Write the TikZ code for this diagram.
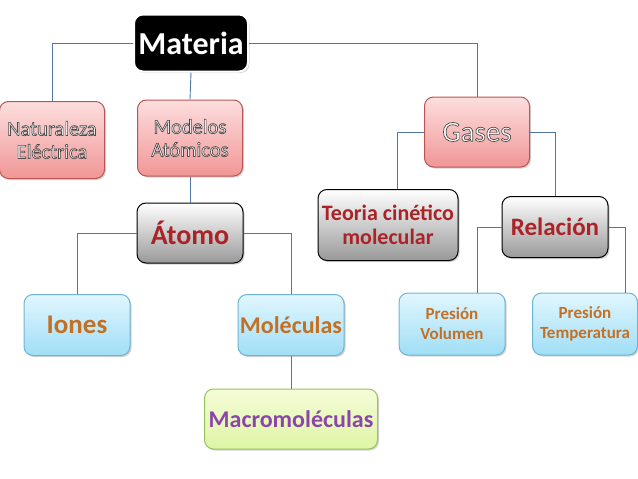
\documentclass[tikz,border=0pt]{standalone}
\usepackage{fontspec}
\setmainfont{Carlito}
\usetikzlibrary{shadows}
\definecolor{linkblue}{RGB}{79,120,165}
\definecolor{pinkedge}{RGB}{185,85,85}
\definecolor{blueedge}{RGB}{110,180,210}
\definecolor{greenedge}{RGB}{150,195,95}
\definecolor{redtext}{RGB}{170,35,40}
\definecolor{orangetext}{RGB}{196,112,36}
\definecolor{purpletext}{RGB}{140,70,170}
% outlined letters: fill and stroke the glyphs
\newcommand{\outl}[1]{\special{pdf:literal direct 2 Tr 0.7 w 0.3 G}#1\special{pdf:literal direct 0 Tr}}
\tikzset{
  box/.style={rounded corners=9pt, inner sep=0pt, align=center, line width=1pt,
    drop shadow={shadow xshift=1.5pt, shadow yshift=-1.5pt, opacity=0.35}},
  pinkbox/.style={box, draw=pinkedge, top color={rgb,255:red,253;green,222;blue,222},
    bottom color={rgb,255:red,241;green,150;blue,150}, text=white},
  graybox/.style={box, draw=black, top color=white, bottom color=black!40, text=redtext,
    font=\bfseries},
  bluebox/.style={box, draw=blueedge, top color={rgb,255:red,225;green,246;blue,255},
    bottom color={rgb,255:red,160;green,222;blue,245}, text=orangetext, font=\bfseries},
  greenbox/.style={box, draw=greenedge, top color={rgb,255:red,245;green,252;blue,215},
    bottom color={rgb,255:red,222;green,245;blue,165}, text=purpletext, font=\bfseries},
  link/.style={draw=linkblue, line width=0.9pt}
}
\begin{document}
\begin{tikzpicture}[x=1pt,y=-1pt]
  \useasboundingbox (0,0) rectangle (638,479);
  % main node
  \node[box, fill=black, draw=white, line width=2pt, text=white,
        minimum width=114pt, minimum height=57pt,
        font=\bfseries\fontsize{32}{34}\selectfont] (materia) at (191,43) {Materia};
  % first level
  \node[pinkbox, minimum width=105pt, minimum height=77pt,
        font=\fontsize{20.5}{23}\selectfont] (natural) at (52,140)
        {\outl{Naturaleza}\\\outl{Eléctrica}};
  \node[pinkbox, minimum width=105pt, minimum height=76pt,
        font=\fontsize{20.5}{23}\selectfont] (modelos) at (190,138)
        {\outl{Modelos}\\\outl{Atómicos}};
  \node[pinkbox, minimum width=105pt, minimum height=70pt,
        font=\fontsize{29}{30}\selectfont] (gases) at (477,132) {\outl{Gases}};
  % second level
  \node[graybox, minimum width=106pt, minimum height=60pt,
        font=\bfseries\fontsize{28}{30}\selectfont] (atomo) at (190,233) {Átomo};
  \node[graybox, minimum width=140pt, minimum height=71pt,
        font=\bfseries\fontsize{22}{24}\selectfont] (teoria) at (388,225)
        {Teoria cinético\\molecular};
  \node[graybox, minimum width=106pt, minimum height=61pt,
        font=\bfseries\fontsize{25}{27}\selectfont] (relacion) at (555,227) {Relación};
  % third level
  \node[bluebox, minimum width=106pt, minimum height=61pt,
        font=\bfseries\fontsize{27}{29}\selectfont] (iones) at (77,325) {Iones};
  \node[bluebox, minimum width=106pt, minimum height=61pt,
        font=\bfseries\fontsize{24}{26}\selectfont] (moleculas) at (291,325) {Moléculas};
  \node[bluebox, minimum width=106pt, minimum height=62pt,
        font=\bfseries\fontsize{17}{20}\selectfont] (pvol) at (452,324) {Presión\\Volumen};
  \node[bluebox, minimum width=105pt, minimum height=62pt,
        font=\bfseries\fontsize{17}{20}\selectfont] (ptemp) at (585,324) {Presión\\Temperatura};
  \node[greenbox, minimum width=173pt, minimum height=60pt,
        font=\bfseries\fontsize{24}{26}\selectfont] (macro) at (291,419) {Macromoléculas};
  % connectors
  \draw[link] (materia.west) -| (natural.north);
  \draw[link] (materia.south) -- (modelos.north);
  \draw[link] (materia.east) -| (gases.north);
  \draw[link] (modelos.south) -- (atomo.north);
  \draw[link] (gases.west) -| ([xshift=9pt]teoria.north);
  \draw[link] (gases.east) -| (relacion.north);
  \draw[link] (atomo.west) -| (iones.north);
  \draw[link] (atomo.east) -| (moleculas.north);
  \draw[link] (moleculas.south) -- (macro.north);
  \draw[link] (relacion.west) -| ([xshift=25pt]pvol.north);
  \draw[link] (relacion.east) -| ([xshift=40pt]ptemp.north);
\end{tikzpicture}
\end{document}
